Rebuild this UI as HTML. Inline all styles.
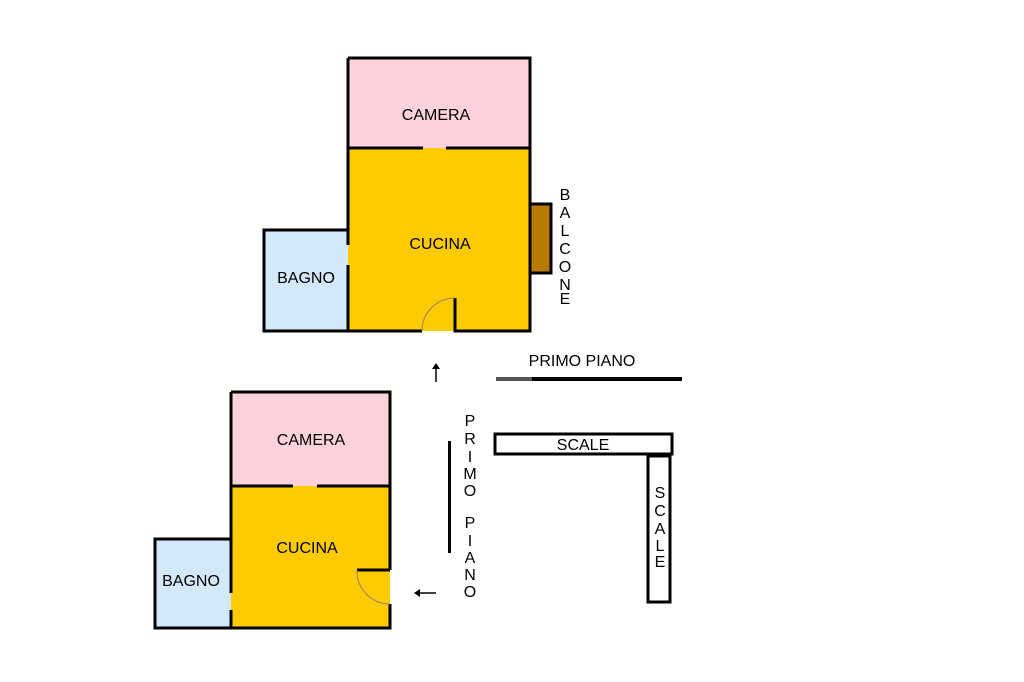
<!DOCTYPE html>
<html><head><style>body{margin:0;background:#fff}svg{display:block}text{font-family:"Liberation Sans",sans-serif;fill:#000}</style></head>
<body>
<svg width="1024" height="682" viewBox="0 0 1024 682">
<rect width="1024" height="682" fill="#fff"/>
<!-- TOP PLAN -->
<rect x="348" y="58" width="182" height="90" fill="#fdd2db"/>
<rect x="348" y="148" width="182" height="183" fill="#fdcb00"/>
<rect x="264" y="230" width="84" height="101" fill="#d3e8fb"/>
<rect x="530" y="204" width="21" height="69" fill="#b87b00" stroke="#000" stroke-width="3"/>
<g stroke="#000" stroke-width="3" fill="none">
<path d="M348,58 H530 V331 H455 V298"/>
<path d="M422,331 H264 V230 H348 V245 M348,265 V331"/>
<path d="M348,58 V230"/>
<path d="M348,148 H423 M446,148 H530"/>
</g>
<path d="M422,331 A33,33 0 0 1 455,298" stroke="#a08060" stroke-width="1" fill="none"/>
<text x="436" y="120" font-size="16" text-anchor="middle">CAMERA</text>
<text x="440" y="249" font-size="16" text-anchor="middle">CUCINA</text>
<text x="306" y="283" font-size="16" text-anchor="middle">BAGNO</text>
<g font-size="16" text-anchor="middle">
<text x="565" y="200">B</text><text x="565" y="218">A</text><text x="565" y="236">L</text><text x="565" y="254">C</text><text x="565" y="272">O</text><text x="565" y="290">N</text><text x="565" y="304">E</text>
</g>
<line x1="436" y1="367" x2="436" y2="382" stroke="#000" stroke-width="1.5"/>
<path d="M432,369 L436,363 L440,369 Z" fill="#000"/>
<text x="582" y="366" font-size="16" text-anchor="middle">PRIMO PIANO</text>
<rect x="496" y="377" width="36" height="4" fill="#555"/>
<rect x="532" y="377" width="150" height="4" fill="#000"/>
<!-- BOTTOM PLAN -->
<rect x="231" y="392" width="159" height="94" fill="#fdd2db"/>
<rect x="231" y="486" width="159" height="142" fill="#fdcb00"/>
<rect x="155" y="539" width="76" height="90" fill="#d3e8fb"/>
<g stroke="#000" stroke-width="3" fill="none">
<path d="M231,392 H390 V570 M390,604 V628 H155 V539 H231"/>
<path d="M231,392 V593 M231,610 V628"/>
<path d="M231,486 H293 M317,486 H390"/>
<path d="M357,570 H390"/>
</g>
<path d="M357,570 A33,33 0 0 0 390,604" stroke="#a08060" stroke-width="1" fill="none"/>
<text x="311" y="445" font-size="16" text-anchor="middle">CAMERA</text>
<text x="307" y="553" font-size="16" text-anchor="middle">CUCINA</text>
<text x="191" y="586" font-size="16" text-anchor="middle">BAGNO</text>
<line x1="418" y1="593" x2="436" y2="593" stroke="#000" stroke-width="1.5"/>
<path d="M420,589 L414,593 L420,597 Z" fill="#000"/>
<rect x="448" y="441" width="3" height="112" fill="#000"/>
<g font-size="16" text-anchor="middle">
<text x="470" y="426">P</text><text x="470" y="444">R</text><text x="470" y="462">I</text><text x="470" y="479">M</text><text x="470" y="496">O</text>
<text x="470" y="528">P</text><text x="470" y="546">I</text><text x="470" y="563">A</text><text x="470" y="580">N</text><text x="470" y="597">O</text>
</g>
<rect x="495" y="434" width="177" height="20" fill="#fff" stroke="#000" stroke-width="3"/>
<text x="583" y="450" font-size="16" text-anchor="middle">SCALE</text>
<rect x="648" y="456" width="22" height="146" fill="#fff" stroke="#000" stroke-width="3"/>
<g font-size="16" text-anchor="middle">
<text x="660" y="498">S</text><text x="660" y="516">C</text><text x="660" y="534">A</text><text x="660" y="551">L</text><text x="660" y="567">E</text>
</g>
</svg>
</body></html>
